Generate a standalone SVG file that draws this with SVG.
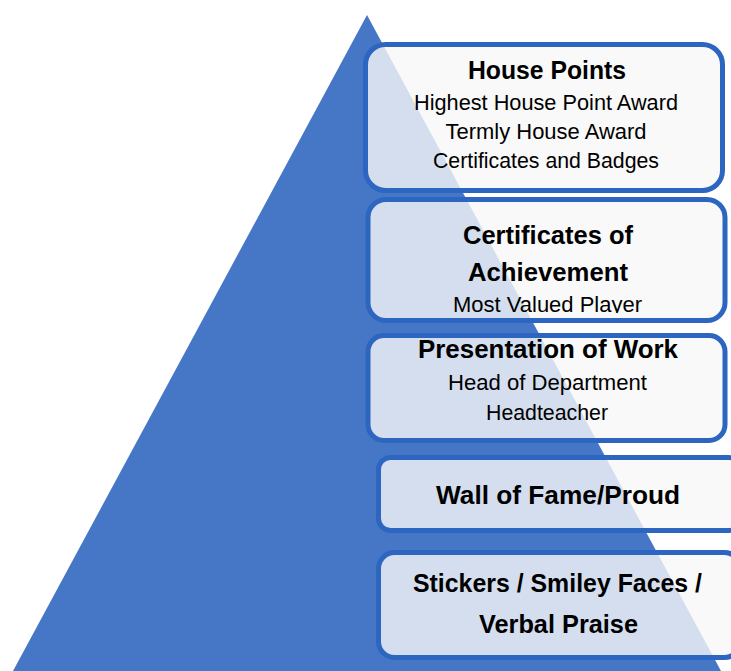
<svg xmlns="http://www.w3.org/2000/svg" width="731" height="671" viewBox="0 0 731 671">
<style>
.box{fill:#F8F8F8;fill-opacity:0.8;stroke:#2D66C0;stroke-width:5}
.t{font-family:"Liberation Sans",Arial,sans-serif;fill:#000;text-anchor:middle}
.b{font-weight:bold;font-size:25px}
.r{font-size:22px}
</style>
<defs>
<clipPath id="clipMVP"><rect x="360" y="280" width="371" height="33"/></clipPath>
</defs>
<rect width="731" height="671" fill="#FFFFFF"/>
<g id="pyramid">
<polygon points="367,15 13,671 721,671" fill="#4677C7"/>
</g>
<g id="connectors"></g>
<g id="node-house-points">
<rect class="box" x="365.5" y="44.5" width="357" height="146" rx="20"/>
<text class="t b" x="547" y="79" textLength="158" lengthAdjust="spacingAndGlyphs">House Points</text>
<text class="t r" x="546" y="110" textLength="264" lengthAdjust="spacingAndGlyphs">Highest House Point Award</text>
<text class="t r" x="546" y="139" textLength="201" lengthAdjust="spacingAndGlyphs">Termly House Award</text>
<text class="t r" x="546" y="168" textLength="226" lengthAdjust="spacingAndGlyphs">Certificates and Badges</text>
</g>
<g id="node-certificates">
<rect class="box" x="368" y="199.5" width="357" height="121" rx="18"/>
<text class="t b" x="548" y="244" textLength="170" lengthAdjust="spacingAndGlyphs">Certificates of</text>
<text class="t b" x="548" y="281" textLength="160" lengthAdjust="spacingAndGlyphs">Achievement</text>
<text class="t r" x="547.5" y="311.5" textLength="189" lengthAdjust="spacingAndGlyphs" clip-path="url(#clipMVP)">Most Valued Player</text>
</g>
<g id="node-presentation">
<rect class="box" x="368" y="335.5" width="357" height="105" rx="16"/>
<text class="t b" x="548" y="358" textLength="260" lengthAdjust="spacingAndGlyphs">Presentation of Work</text>
<text class="t r" x="547.5" y="390" textLength="199" lengthAdjust="spacingAndGlyphs">Head of Department</text>
<text class="t r" x="547" y="420" textLength="122" lengthAdjust="spacingAndGlyphs">Headteacher</text>
</g>
<g id="node-wall-of-fame">
<rect class="box" x="378.5" y="457.5" width="362" height="73" rx="12"/>
<text class="t b" x="558" y="504" textLength="244" lengthAdjust="spacingAndGlyphs">Wall of Fame/Proud</text>
</g>
<g id="node-stickers">
<rect class="box" x="378.5" y="552.5" width="362" height="105" rx="16"/>
<text class="t b" x="557.5" y="592" textLength="289" lengthAdjust="spacingAndGlyphs">Stickers / Smiley Faces /</text>
<text class="t b" x="558.5" y="633" textLength="159" lengthAdjust="spacingAndGlyphs">Verbal Praise</text>
</g>
</svg>
